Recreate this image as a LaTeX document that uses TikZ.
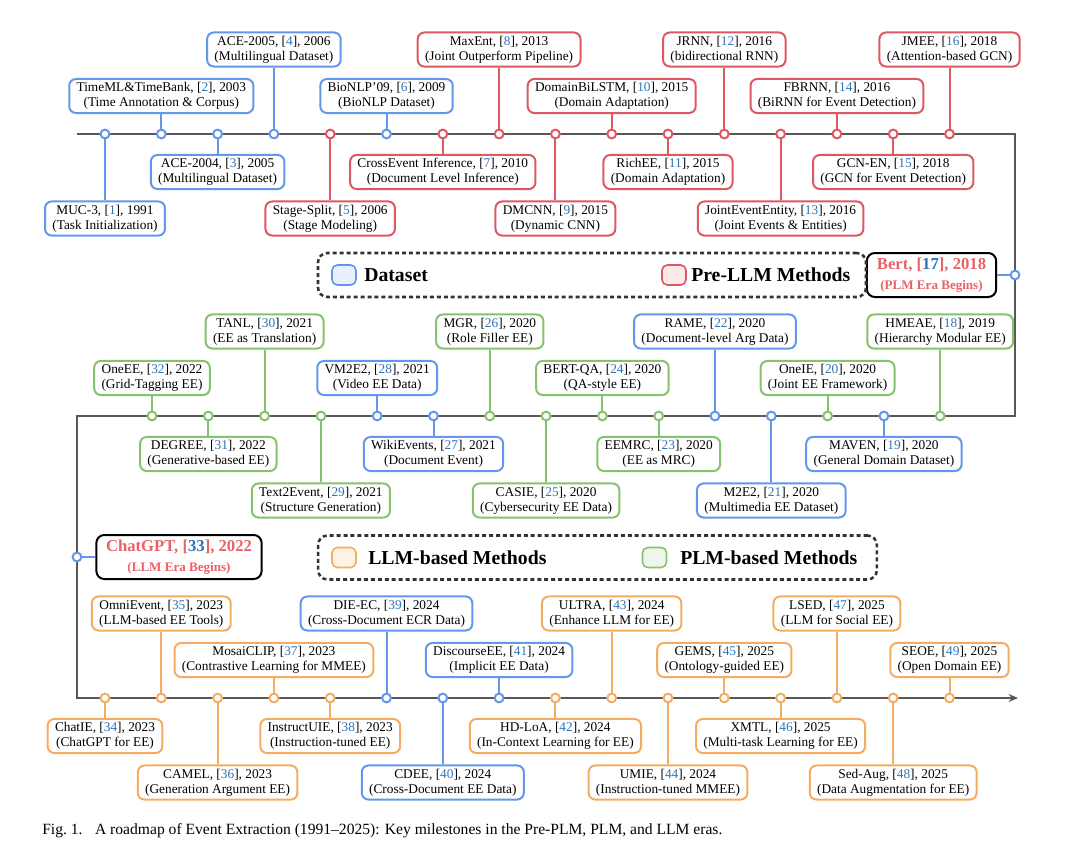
\documentclass[tikz,border=0pt]{standalone}
\usepackage{fontspec}
\setmainfont{Liberation Serif}
\usetikzlibrary{arrows.meta}
\definecolor{dsblue}{RGB}{100,150,235}
\definecolor{prered}{RGB}{222,88,98}
\definecolor{plmgreen}{RGB}{132,194,108}
\definecolor{llmorange}{RGB}{246,172,96}
\definecolor{citeblue}{RGB}{45,115,185}
\definecolor{erared}{RGB}{232,98,104}
\definecolor{tlgray}{RGB}{88,88,88}
\definecolor{dsfill}{RGB}{233,240,253}
\definecolor{prefill}{RGB}{252,233,234}
\definecolor{llmfill}{RGB}{254,241,229}
\definecolor{plmfill}{RGB}{238,246,234}
\newcommand\cn[1]{{\color{citeblue}#1}}
\newcommand\ev[6]{%
  \node[tdot,#5] (d#1) at (#2,#3) {};
  \node[evt,#5] (#1) at (#2,#4) {#6};
  \draw[conn,#5] (d#1) -- (#1);
}
\tikzset{
  ds/.style={draw=dsblue},
  pre/.style={draw=prered},
  plm/.style={draw=plmgreen},
  llm/.style={draw=llmorange},
  evt/.style={rounded corners=5pt, line width=1.5pt, fill=white, align=center,
    inner xsep=5.5pt, inner ysep=2.6pt, font=\fontsize{10}{11.25}\selectfont},
  tdot/.style={circle, fill=white, line width=1.5pt, minimum size=6.6pt, inner sep=0pt},
  conn/.style={line width=1.5pt},
  tl/.style={line width=2.1pt, draw=tlgray},
  era/.style={draw=black, line width=1.5pt, rounded corners=6pt, fill=white, align=center,
    text=erared, font=\fontsize{12.5}{15.5}\selectfont\bfseries, inner sep=0pt, minimum height=33pt},
  legbox/.style={draw=black!80, line width=1.9pt, dash pattern=on 3pt off 2.2pt, rounded corners=7pt,
    minimum height=33pt, inner sep=0pt},
  swatch/.style={rounded corners=4pt, line width=1.2pt, minimum width=18pt, minimum height=15pt, inner sep=0pt},
  legtext/.style={anchor=west, inner sep=0pt, font=\fontsize{14.8}{16}\selectfont\bfseries},
}
\begin{document}
\begin{tikzpicture}[x=0.75pt,y=-0.75pt]
\useasboundingbox (0,0) rectangle (1080,852);
% timeline
\coordinate (s1) at (77,134);
\coordinate (c1) at (1015,134);
\coordinate (c2) at (1015,416);
\coordinate (c3) at (77,416);
\coordinate (c4) at (77,698);
\coordinate (e1) at (1018,698);
\draw[tl,-{Stealth[length=7pt,width=6pt]}] (s1) -- (c1) -- (c2) -- (c3) -- (c4) -- (e1);

% line 1
\ev{muc}{105}{134}{218.5}{ds}{MUC-3, [\cn{1}], 1991\\(Task Initialization)}
\ev{timeml}{161.3}{134}{96}{ds}{TimeML\&TimeBank, [\cn{2}], 2003\\(Time Annotation \& Corpus)}
\ev{ace04}{217.6}{134}{172}{ds}{ACE-2004, [\cn{3}], 2005\\(Multilingual Dataset)}
\ev{ace05}{273.9}{134}{49.5}{ds}{ACE-2005, [\cn{4}], 2006\\(Multilingual Dataset)}
\ev{stage}{330.2}{134}{218.5}{pre}{Stage-Split, [\cn{5}], 2006\\(Stage Modeling)}
\ev{bionlp}{386.5}{134}{96}{ds}{BioNLP'09, [\cn{6}], 2009\\(BioNLP Dataset)}
\ev{cross}{442.8}{134}{172}{pre}{CrossEvent Inference, [\cn{7}], 2010\\(Document Level Inference)}
\ev{maxent}{499.1}{134}{49.5}{pre}{MaxEnt, [\cn{8}], 2013\\(Joint Outperform Pipeline)}
\ev{dmcnn}{555.4}{134}{218.5}{pre}{DMCNN, [\cn{9}], 2015\\(Dynamic CNN)}
\ev{dombi}{611.7}{134}{96}{pre}{DomainBiLSTM, [\cn{10}], 2015\\(Domain Adaptation)}
\ev{richee}{668}{134}{172}{pre}{RichEE, [\cn{11}], 2015\\(Domain Adaptation)}
\ev{jrnn}{724.3}{134}{49.5}{pre}{JRNN, [\cn{12}], 2016\\(bidirectional RNN)}
\ev{jee}{780.6}{134}{218.5}{pre}{JointEventEntity, [\cn{13}], 2016\\(Joint Events \& Entities)}
\ev{fbrnn}{836.9}{134}{96}{pre}{FBRNN, [\cn{14}], 2016\\(BiRNN for Event Detection)}
\ev{gcnen}{893.2}{134}{172}{pre}{GCN-EN, [\cn{15}], 2018\\(GCN for Event Detection)}
\ev{jmee}{949.5}{134}{49.5}{pre}{JMEE, [\cn{16}], 2018\\(Attention-based GCN)}

% line 2
\ev{oneee}{152}{416}{378}{plm}{OneEE, [\cn{32}], 2022\\(Grid-Tagging EE)}
\ev{degree}{208.3}{416}{454}{plm}{DEGREE, [\cn{31}], 2022\\(Generative-based EE)}
\ev{tanl}{264.6}{416}{331.5}{plm}{TANL, [\cn{30}], 2021\\(EE as Translation)}
\ev{ttoe}{320.9}{416}{500.5}{plm}{Text2Event, [\cn{29}], 2021\\(Structure Generation)}
\ev{vmee}{377.2}{416}{378}{ds}{VM2E2, [\cn{28}], 2021\\(Video EE Data)}
\ev{wiki}{433.5}{416}{454}{ds}{WikiEvents, [\cn{27}], 2021\\(Document Event)}
\ev{mgr}{489.8}{416}{331.5}{plm}{MGR, [\cn{26}], 2020\\(Role Filler EE)}
\ev{casie}{546.1}{416}{500.5}{plm}{CASIE, [\cn{25}], 2020\\(Cybersecurity EE Data)}
\ev{bertqa}{602.4}{416}{378}{plm}{BERT-QA, [\cn{24}], 2020\\(QA-style EE)}
\ev{eemrc}{658.7}{416}{454}{plm}{EEMRC, [\cn{23}], 2020\\(EE as MRC)}
\ev{rame}{715}{416}{331.5}{ds}{RAME, [\cn{22}], 2020\\(Document-level Arg Data)}
\ev{mtee}{771.3}{416}{500.5}{ds}{M2E2, [\cn{21}], 2020\\(Multimedia EE Dataset)}
\ev{oneie}{827.6}{416}{378}{plm}{OneIE, [\cn{20}], 2020\\(Joint EE Framework)}
\ev{maven}{883.9}{416}{454}{ds}{MAVEN, [\cn{19}], 2020\\(General Domain Dataset)}
\ev{hmeae}{940.2}{416}{331.5}{plm}{HMEAE, [\cn{18}], 2019\\(Hierarchy Modular EE)}

% line 3
\ev{chatie}{105}{698}{736}{llm}{ChatIE, [\cn{34}], 2023\\(ChatGPT for EE)}
\ev{omni}{161.3}{698}{613.5}{llm}{OmniEvent, [\cn{35}], 2023\\(LLM-based EE Tools)}
\ev{camel}{217.6}{698}{782.5}{llm}{CAMEL, [\cn{36}], 2023\\(Generation Argument EE)}
\ev{mosai}{273.9}{698}{660}{llm}{MosaiCLIP, [\cn{37}], 2023\\(Contrastive Learning for MMEE)}
\ev{iuie}{330.2}{698}{736}{llm}{InstructUIE, [\cn{38}], 2023\\(Instruction-tuned EE)}
\ev{dieec}{386.5}{698}{613.5}{ds}{DIE-EC, [\cn{39}], 2024\\(Cross-Document ECR Data)}
\ev{cdee}{442.8}{698}{782.5}{ds}{CDEE, [\cn{40}], 2024\\(Cross-Document EE Data)}
\ev{disc}{499.1}{698}{660}{ds}{DiscourseEE, [\cn{41}], 2024\\(Implicit EE Data)}
\ev{hdloa}{555.4}{698}{736}{llm}{HD-LoA, [\cn{42}], 2024\\(In-Context Learning for EE)}
\ev{ultra}{611.7}{698}{613.5}{llm}{ULTRA, [\cn{43}], 2024\\(Enhance LLM for EE)}
\ev{umie}{668}{698}{782.5}{llm}{UMIE, [\cn{44}], 2024\\(Instruction-tuned MMEE)}
\ev{gems}{724.3}{698}{660}{llm}{GEMS, [\cn{45}], 2025\\(Ontology-guided EE)}
\ev{xmtl}{780.6}{698}{736}{llm}{XMTL, [\cn{46}], 2025\\(Multi-task Learning for EE)}
\ev{lsed}{836.9}{698}{613.5}{llm}{LSED, [\cn{47}], 2025\\(LLM for Social EE)}
\ev{sedaug}{893.2}{698}{782.5}{llm}{Sed-Aug, [\cn{48}], 2025\\(Data Augmentation for EE)}
\ev{seoe}{949.5}{698}{660}{llm}{SEOE, [\cn{49}], 2025\\(Open Domain EE)}

% era nodes
\node[era, minimum width=97pt] (bert) at (931.5,275) {Bert, [\cn{17}], 2018\\{\fontsize{9.8}{11}\selectfont(PLM Era Begins)}};
\node[tdot,ds] (dbert) at (1015,275) {};
\draw[conn,ds] (dbert) -- (bert);
\node[era, minimum width=124pt] (chatgpt) at (179,557) {ChatGPT, [\cn{33}], 2022\\{\fontsize{9.8}{11}\selectfont(LLM Era Begins)}};
\node[tdot,ds] (dchat) at (77,557) {};
\draw[conn,ds] (dchat) -- (chatgpt);

% legend 1
\node[legbox, minimum width=411pt] (leg1) at (592,275) {};
\node[swatch, draw=dsblue, fill=dsfill] (swds) at (344,275) {};
\node[legtext] (tds) at (364,275) {Dataset};
\node[swatch, draw=prered, fill=prefill] (swpre) at (674,275) {};
\node[legtext] (tpre) at (691,275) {Pre-LLM Methods};

% legend 2
\node[legbox, minimum width=419pt] (leg2) at (597.5,557.5) {};
\node[swatch, draw=llmorange, fill=llmfill] (swllm) at (344,557.5) {};
\node[legtext] (tllm) at (368,557.5) {LLM-based Methods};
\node[swatch, draw=plmgreen, fill=plmfill] (swplm) at (654.5,557.5) {};
\node[legtext] (tplm) at (680,557.5) {PLM-based Methods};

% caption
\node[anchor=west, inner sep=0pt, font=\fontsize{11.7}{13}\selectfont] (cap) at (42,831)
  {Fig.~1.\hspace{0.8em}A roadmap of Event Extraction (1991--2025): Key milestones in the Pre-PLM, PLM, and LLM eras.};
\end{tikzpicture}
\end{document}
